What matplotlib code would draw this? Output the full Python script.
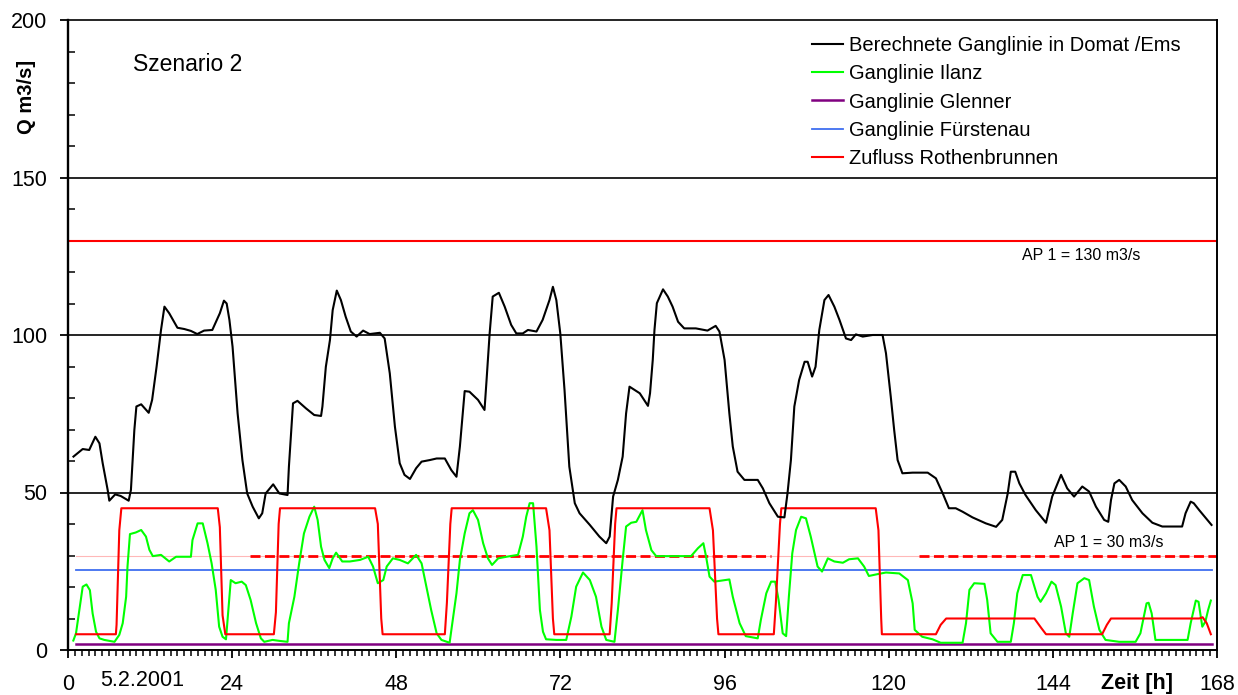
import matplotlib
matplotlib.use("Agg")
import matplotlib.pyplot as plt
from matplotlib.ticker import MultipleLocator

plt.rcParams['font.family'] = ['Liberation Sans', 'DejaVu Sans']

# ---------------- data (hours, m3/s) ----------------
domat_h = [0.8, 2.15, 3.1, 4.0, 4.6, 5.07, 5.8, 6.04, 6.9, 7.7, 8.87, 9.2, 9.7, 10.0, 10.7, 11.8, 12.3, 12.95, 13.6, 14.1,
           14.8, 16.0, 17.0, 17.97, 18.9, 19.9, 21.1, 22.2, 22.8, 23.2, 23.6, 24.06, 24.8, 25.5, 26.2, 27.0, 27.9, 28.4,
           28.9, 30.0, 30.9, 32.1, 32.3, 32.9, 33.55, 34.8, 36.0, 37.0, 37.2, 37.7, 38.3, 38.7, 39.3, 39.9, 40.6, 41.35,
           42.2, 43.15, 44.1, 45.6, 46.3, 47.05, 47.8, 48.5, 49.2, 50.0, 50.9, 51.7, 52.9, 53.9, 55.1, 56.05, 56.8, 57.3,
           58.0, 58.7, 59.95, 60.9, 61.2, 61.65, 62.1, 63.0, 63.85, 64.8, 65.55, 66.5, 67.25, 68.5, 69.4, 70.4, 70.9,
           71.4, 71.98, 72.6, 73.3, 74.1, 74.8, 76.3, 77.7, 78.7, 79.2, 79.7, 80.4, 81.1, 81.6, 82.1, 83.6, 84.8, 85.1,
           85.5, 85.75, 86.1, 87.0, 87.7, 88.4, 89.2, 90.1, 91.8, 93.5, 94.7, 95.25, 96.0, 96.7, 97.2, 97.9, 98.9, 100.85,
           101.6, 102.55, 103.8, 104.75, 105.2, 105.7, 106.2, 106.9, 107.7, 108.15, 108.8, 109.3, 109.85, 110.6, 111.2,
           112.05, 112.8, 113.75, 114.5, 115.2, 116.2, 117.65, 119.1, 119.6, 120.3, 120.8, 121.3, 122.0, 123.5, 125.7,
           126.9, 127.9, 128.8, 129.8, 130.8, 132.25, 134.2, 135.7, 136.6, 137.4, 137.85, 138.5, 139.1, 140.0, 141.5,
           143.0, 143.9, 145.2, 146.1, 147.1, 148.3, 149.3, 150.3, 151.5, 152.1, 152.5, 153.0, 153.7, 154.65, 155.6,
           157.1, 158.55, 160.0, 162.9, 163.4, 164.15, 164.6, 165.4, 166.6, 167.2]
domat_q = [61.4, 63.8, 63.5, 67.7, 65.6, 59.3, 50.8, 47.4, 49.4, 48.9, 47.4, 50.8, 69.8, 77.3, 78.0, 75.3, 79.4, 89.9, 101.6, 109.0,
           106.9, 102.3, 101.9, 101.3, 100.3, 101.4, 101.6, 106.9, 110.9, 110.0, 104.8, 96.3, 75.1, 60.3, 49.7, 45.5, 41.8, 43.4,
           49.7, 52.6, 49.7, 49.2, 58.2, 78.3, 79.1, 76.7, 74.6, 74.3, 77.3, 89.9, 98.4, 107.9, 114.1, 111.1, 105.8, 101.1,
           99.5, 101.4, 100.3, 100.7, 98.9, 87.8, 70.9, 59.3, 55.6, 54.3, 57.7, 59.8, 60.3, 60.8, 60.8, 57.1, 55.0, 64.6,
           82.2, 82.0, 79.4, 76.2, 85.7, 100.5, 112.2, 113.4, 109.0, 103.2, 100.5, 100.5, 101.6, 101.1, 104.8, 111.1, 115.3,
           111.1, 100.5, 82.5, 58.2, 46.6, 43.4, 39.7, 36.0, 33.9, 36.0, 48.7, 54.0, 61.4, 75.1, 83.6, 81.5, 77.5, 81.5,
           92.1, 101.6, 110.1, 114.5, 112.2, 109.0, 104.2, 102.1, 102.1, 101.4, 102.9, 101.1, 92.1, 75.1, 64.6, 56.6, 54.0, 54.0,
           51.3, 46.6, 42.3, 42.1, 49.7, 60.3, 77.3, 85.7, 91.5, 91.5, 86.8, 89.9, 101.6, 111.1, 112.7,
           109.0, 104.8, 98.9, 98.4, 100.2, 99.5, 100.0, 100.0, 94.2, 80.4, 69.8, 60.3, 56.1, 56.3, 56.3,
           54.5, 49.7, 45.0, 45.0, 43.9, 42.1, 40.2, 39.1, 41.3, 49.7, 56.6, 56.6, 52.9, 49.2, 44.4,
           40.4, 48.7, 55.6, 51.3, 48.7, 51.9, 50.3, 45.5, 41.3, 40.7, 47.6, 52.9, 54.0, 51.9, 47.6,
           43.4, 40.4, 39.2, 39.2, 43.4, 47.1, 46.6, 44.4, 41.3, 39.7]

ilanz_h = [0.78, 1.17, 1.66, 2.15, 2.7, 3.2, 3.6, 4.1, 4.6, 5.3, 6.8, 7.5, 8.0, 8.5, 8.7, 9.06, 9.9, 10.7, 11.4, 11.9, 12.4,
           13.6, 14.8, 15.8, 17.97, 18.2, 18.95, 19.7, 20.4, 21.0, 21.6, 22.1, 22.6, 23.1, 23.4, 23.8, 24.5, 25.4, 26.0,
           26.7, 27.5, 28.2, 28.7, 29.9, 30.9, 32.1, 32.3, 33.1, 33.8, 34.5, 35.3, 36.0, 36.5, 37.0, 37.5, 38.2, 38.7,
           39.2, 40.1, 41.2, 42.7, 43.9, 44.6, 45.3, 46.1, 46.6, 47.5, 48.5, 49.7, 50.9, 51.7, 52.4, 53.1, 53.9, 54.6,
           55.8, 56.05, 56.8, 57.3, 58.0, 58.7, 59.2, 59.95, 60.7, 61.4, 62.0, 62.9, 64.1, 65.8, 66.5, 67.0, 67.5, 68.0,
           68.5, 69.0, 69.45, 69.9, 71.4, 72.85, 73.6, 74.3, 75.3, 76.3, 77.2, 78.0, 78.7, 79.9, 80.4, 81.1, 81.6, 82.35,
           83.1, 84.0, 84.5, 85.3, 86.0, 88.4, 91.1, 92.1, 92.9, 93.3, 93.8, 94.5, 96.7, 97.2, 98.2, 99.1, 100.85, 101.3,
           102.1, 102.8, 103.4, 103.9, 104.5, 105.0, 105.4, 105.9, 106.45, 107.2, 107.9, 108.6, 109.6, 110.25, 111.1,
           112.05, 113.3, 114.2, 115.5, 116.4, 117.1, 118.4, 119.6, 121.55, 122.8, 123.5, 123.8, 124.9, 126.4, 127.6,
           130.8, 131.3, 131.8, 132.5, 134.0, 134.4, 134.9, 135.9, 137.85, 138.3, 138.8, 139.6, 140.8, 141.75, 142.2,
           143.0, 143.8, 144.4, 145.2, 145.9, 146.4, 146.9, 147.6, 148.6, 149.3, 150.0, 150.8, 151.7, 153.7, 156.1,
           156.8, 157.7, 158.0, 158.45, 159.0, 160.25, 163.7, 164.15, 164.9, 165.3, 165.85, 166.3, 166.7, 167.1]
ilanz_q = [3.0, 5.3, 12.7, 20.1, 20.8, 19.0, 11.6, 5.8, 3.7, 3.2, 2.6, 4.8, 8.5, 16.9, 26.5, 36.8, 37.3, 38.1, 36.0, 31.8, 29.8,
           30.2, 28.1, 29.6, 29.6, 34.9, 40.2, 40.2, 33.9, 27.5, 19.1, 7.4, 4.2, 3.4, 11.6, 22.2, 21.2, 21.7, 20.6,
           15.9, 8.5, 3.7, 2.6, 3.2, 2.9, 2.6, 8.5, 16.9, 27.5, 37.0, 42.3, 45.5, 41.3, 32.8, 28.6, 26.0, 29.1,
           30.9, 28.1, 28.1, 28.6, 29.6, 26.5, 21.2, 22.2, 26.5, 29.1, 28.6, 27.5, 30.2, 27.5, 20.1, 12.7, 5.3, 3.2,
           2.3, 6.3, 18.0, 28.6, 37.0, 43.4, 44.4, 41.3, 33.9, 29.1, 27.0, 29.1, 29.6, 30.2, 36.0, 42.3, 46.6, 46.6,
           32.8, 12.7, 5.8, 3.4, 3.2, 3.2, 10.6, 20.1, 24.6, 22.2, 16.9, 7.4, 3.2, 2.6, 12.7, 28.6, 39.2, 40.4,
           40.7, 44.4, 38.1, 31.7, 29.8, 29.8, 29.8, 32.3, 33.9, 29.6, 23.3, 21.7, 22.4, 16.9, 8.5, 4.4, 3.7, 9.5,
           18.0, 21.7, 21.7, 15.9, 5.3, 4.4, 16.9, 30.7, 38.1, 42.3, 41.8, 36.0, 26.5, 24.9, 29.1,
           28.1, 27.7, 28.8, 29.1, 26.5, 23.5, 24.1, 24.6, 24.3, 22.2, 14.8, 6.4, 4.2, 3.4, 2.3,
           2.3, 8.5, 19.1, 21.2, 21.0, 15.9, 5.3, 2.6, 2.6, 8.5, 18.0, 23.8, 23.8, 16.9, 15.3,
           18.0, 21.7, 20.6, 13.8, 5.3, 4.2, 11.6, 21.2, 22.8, 22.2, 13.8, 6.4, 3.2, 2.6, 2.6,
           5.3, 14.8, 15.0, 11.6, 3.2, 3.2, 3.2, 8.5, 15.7, 15.3, 7.4, 9.0, 12.7, 15.7]

rothen_h = [1.2, 7.0, 7.1, 7.5, 7.8, 21.9, 22.2, 22.6, 23.0, 30.1, 30.4, 30.8, 31.0, 44.9, 45.3, 45.8, 46.0, 55.1, 55.4, 55.9,
            56.1, 69.9, 70.4, 70.9, 71.1, 79.2, 79.5, 80.0, 80.2, 93.8, 94.3, 94.9, 95.1, 103.2, 103.5, 104.1, 104.3,
            118.1, 118.5, 118.9, 119.0, 126.9, 127.6, 128.4, 141.3, 142.3, 143.0, 151.2, 151.9, 152.5, 165.4, 165.9,
            166.5, 167.1]
rothen_q = [5, 5, 8, 38, 45, 45, 39, 11, 5, 5, 12, 40, 45, 45, 40, 10, 5, 5, 15, 40,
            45, 45, 38, 10, 5, 5, 15, 40, 45, 45, 38, 10, 5, 5, 15, 40, 45,
            45, 38, 10, 5, 5, 8, 10, 10, 7, 5, 5, 8, 10, 10, 10.4,
            8.5, 5]

glenner_q = 2.0
fuerstenau_q = 25.5
ap1_high = 130
ap1_low = 30
series_start, series_end = 1.2, 167.3
dash_segments = [(26.6, 102.8), (124.5, 168.0)]

labels = ["Berechnete Ganglinie in Domat /Ems", "Ganglinie Ilanz", "Ganglinie Glenner",
          "Ganglinie Fürstenau", "Zufluss Rothenbrunnen"]
xticks = [0, 24, 48, 72, 96, 120, 144, 168]
yticks = [0, 50, 100, 150, 200]

# ---------------- figure ----------------
W, H = 1238, 695
fig = plt.figure(figsize=(W / 100, H / 100), dpi=100)
ax = fig.add_axes([68 / W, 45 / H, 1149 / W, 630 / H])
ax.set_xlim(0, 168)
ax.set_ylim(0, 200)

for y in (50, 100, 150):
    ax.axhline(y, color='black', lw=1.2, zorder=1)

ax.axhline(ap1_high, color='#ff0000', lw=1.5, zorder=2)
ax.plot([series_start, 168], [ap1_low, ap1_low], color='#ffb8b8', lw=0.8, zorder=2)
for a, b in dash_segments:
    ax.plot([a, b], [ap1_low, ap1_low], color='#ff0000', lw=2.0, dashes=(3.6, 1.6), zorder=2)

l1, = ax.plot(domat_h, domat_q, color='black', lw=1.5, zorder=6)
l2, = ax.plot(ilanz_h, ilanz_q, color='#00ff00', lw=1.5, zorder=4)
l3, = ax.plot([series_start, series_end], [glenner_q, glenner_q], color='#800080', lw=1.8, zorder=3)
l4, = ax.plot([series_start, series_end], [fuerstenau_q, fuerstenau_q], color='#3f6ef0', lw=1.3, zorder=3)
l5, = ax.plot(rothen_h, rothen_q, color='#ff0000', lw=1.5, zorder=5)

ax.set_xticks(xticks)
ax.set_yticks(yticks)
ax.xaxis.set_minor_locator(MultipleLocator(1))
ax.yaxis.set_minor_locator(MultipleLocator(10))
ax.tick_params(axis='both', which='major', direction='out', length=6, width=1.3,
               labelsize=15.5, color='black')
ax.tick_params(axis='x', which='major', pad=11)
ax.tick_params(axis='y', which='major', pad=9)
ax.tick_params(axis='y', which='minor', direction='in', length=5, width=1.1)
ax.tick_params(axis='x', which='minor', direction='out', length=4, width=1.1)

for s in ax.spines.values():
    s.set_color('black')
ax.spines['left'].set_linewidth(1.7)
ax.spines['bottom'].set_linewidth(1.4)
ax.spines['top'].set_linewidth(1.2)
ax.spines['right'].set_linewidth(1.4)

leg = ax.legend([l1, l2, l3, l4, l5], labels, loc='upper left',
                bbox_to_anchor=(812 / W, (H - 36) / H), bbox_transform=fig.transFigure,
                frameon=False, fontsize=14.5, handlelength=1.55, handletextpad=0.27,
                labelspacing=0.46, borderpad=0, borderaxespad=0)

# texts
fig.text(133 / W, 1 - 71 / H, "Szenario 2", fontsize=16.5, ha='left', va='baseline')
fig.text(27 / W, 1 - 97 / H, "Q m3/s]", fontsize=14.5, fontweight='bold', rotation=90,
         ha='center', va='center')
fig.text(1137 / W, 1 - 684 / H, "Zeit [h]", fontsize=15.5, fontweight='bold', ha='center', va='center')
fig.text(142 / W, 1 - 680 / H, "5.2.2001", fontsize=15.5, ha='center', va='center')
ax.text(148.2, 125.2, "AP 1 = 130 m3/s", fontsize=11.5, ha='center', va='center')
ax.text(152.1, 34.0, "AP 1 = 30 m3/s", fontsize=11.5, ha='center', va='center')

fig.savefig("out.png", dpi=100)
